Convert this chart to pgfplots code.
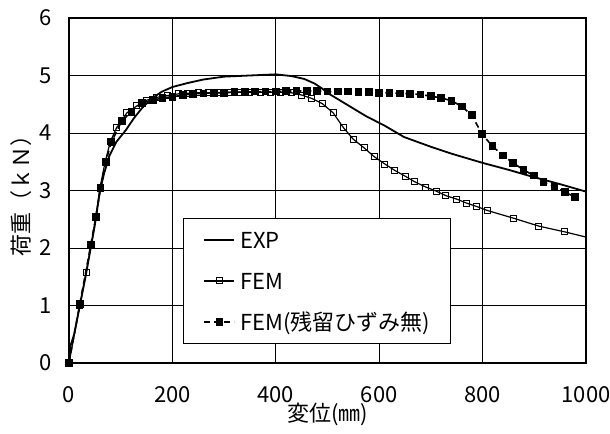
\documentclass[border=0pt]{standalone}
\usepackage{fontspec}
\setmainfont{Noto Sans CJK JP}
\usepackage{pgfplots}
\pgfplotsset{compat=1.18}

\begin{document}
\fontsize{11pt}{13pt}\selectfont
\begin{tikzpicture}
\begin{axis}[
  scale only axis, width=258.5pt, height=172.5pt,
  xmin=0, xmax=1000, ymin=0, ymax=6,
  xtick={0,200,...,1000}, ytick={0,1,...,6},
  major tick length=0pt,
  grid=major, grid style={black, line width=0.45pt},
  axis line style={black, line width=0.6pt},
  /pgf/number format/assume math mode=true,
  /pgf/number format/1000 sep={},
  tick label style={font=\fontsize{11pt}{13pt}\selectfont, inner sep=0pt},
  yticklabel style={xshift=-8.5pt},
  xticklabel style={yshift=-11.5pt},
  xlabel={変位(㎜)}, ylabel={荷重（ｋＮ）},
  label style={font=\fontsize{11pt}{13pt}\selectfont},
  xlabel style={at={(axis description cs:0.5,-0.148)}, anchor=center},
  ylabel style={at={(axis description cs:-0.093,0.5)}, anchor=center},
  legend image code/.code={\draw[mark repeat=2,mark phase=2,#1] plot coordinates {(0pt,0pt)(7.5pt,0pt)(15pt,0pt)};},
  legend cell align=left,
  legend style={at={(axis description cs:0.2205,0.4203)}, anchor=north west,
    draw=black, line width=0.5pt, fill=white, font=\fontsize{11pt}{13pt}\selectfont,
    inner xsep=10pt, inner ysep=5.5pt, row sep=10pt, column sep=2.5pt,
    nodes={inner sep=0pt, text height=9.5pt, text depth=1pt}},
]
% EXP
\addplot[black, line width=0.9pt, no marks] coordinates {
(0,0)(3,0.3)(10,0.5)(21,1.0)(32,1.5)(42,2.0)(50,2.4)(55,2.7)(60,3.0)(68,3.3)(78,3.6)(92,3.85)(110,4.05)(125,4.25)(140,4.42)(160,4.6)(180,4.72)(200,4.80)(230,4.87)(260,4.93)(300,4.98)(350,5.00)(400,5.02)(430,4.99)(455,4.94)(475,4.86)(490,4.77)(505,4.67)(540,4.48)(575,4.29)(610,4.13)(648,3.93)(700,3.76)(740,3.64)(800,3.48)(850,3.36)(900,3.23)(950,3.11)(1000,2.98)};
\addlegendentry{EXP}
% FEM
\addplot[black, line width=0.6pt, mark=square, mark size=1.5pt, mark options={solid, fill=white, line width=0.5pt}] coordinates {
(0,0)(21,1.0)(33,1.57)(43,2.05)(52,2.55)(60,3.05)(70,3.5)(80,3.85)(92,4.09)(112,4.35)(131,4.47)(150,4.57)(170,4.62)(190,4.65)(211,4.68)(230,4.69)(250,4.70)(270,4.70)(290,4.70)(310,4.71)(330,4.71)(350,4.71)(370,4.71)(390,4.71)(410,4.71)(430,4.70)(450,4.66)(470,4.60)(490,4.51)(511,4.35)(531,4.09)(550,3.89)(571,3.74)(590,3.59)(611,3.46)(630,3.35)(650,3.25)(669,3.15)(690,3.06)(710,2.99)(729,2.91)(750,2.85)(769,2.78)(789,2.72)(810,2.65)(859,2.52)(909,2.38)(959,2.28)};
\addlegendentry{FEM}
\addplot[black, line width=0.6pt, no marks, forget plot] coordinates {(959,2.28)(1000,2.19)};
% FEM without residual strain
\addplot[black, line width=0.8pt, dash pattern=on 3pt off 2pt, mark=square*, mark size=1.5pt, mark options={solid}] coordinates {
(0,0)(21,1.03)(42,2.05)(52,2.54)(61,3.04)(71,3.50)(82,3.84)(102,4.21)(121,4.37)(141,4.52)(162,4.57)(181,4.61)(200,4.63)(221,4.66)(240,4.68)(260,4.69)(280,4.70)(300,4.70)(320,4.71)(340,4.71)(360,4.72)(380,4.72)(400,4.72)(420,4.73)(440,4.73)(460,4.73)(480,4.73)(500,4.72)(520,4.72)(540,4.72)(560,4.71)(580,4.71)(600,4.70)(620,4.70)(640,4.69)(660,4.68)(680,4.67)(700,4.64)(720,4.61)(740,4.56)(760,4.46)(779,4.31)(799,3.98)(819,3.77)(839,3.61)(859,3.48)(879,3.36)(899,3.26)(918,3.15)(939,3.06)(959,2.97)(979,2.89)};
\addlegendentry{FEM(残留ひずみ無)}
\end{axis}
\pgfresetboundingbox
\path (current axis.south west) ++(-34.5pt,-35.5pt) rectangle ([shift={(12pt,9pt)}]current axis.north east);
\end{tikzpicture}
\end{document}
